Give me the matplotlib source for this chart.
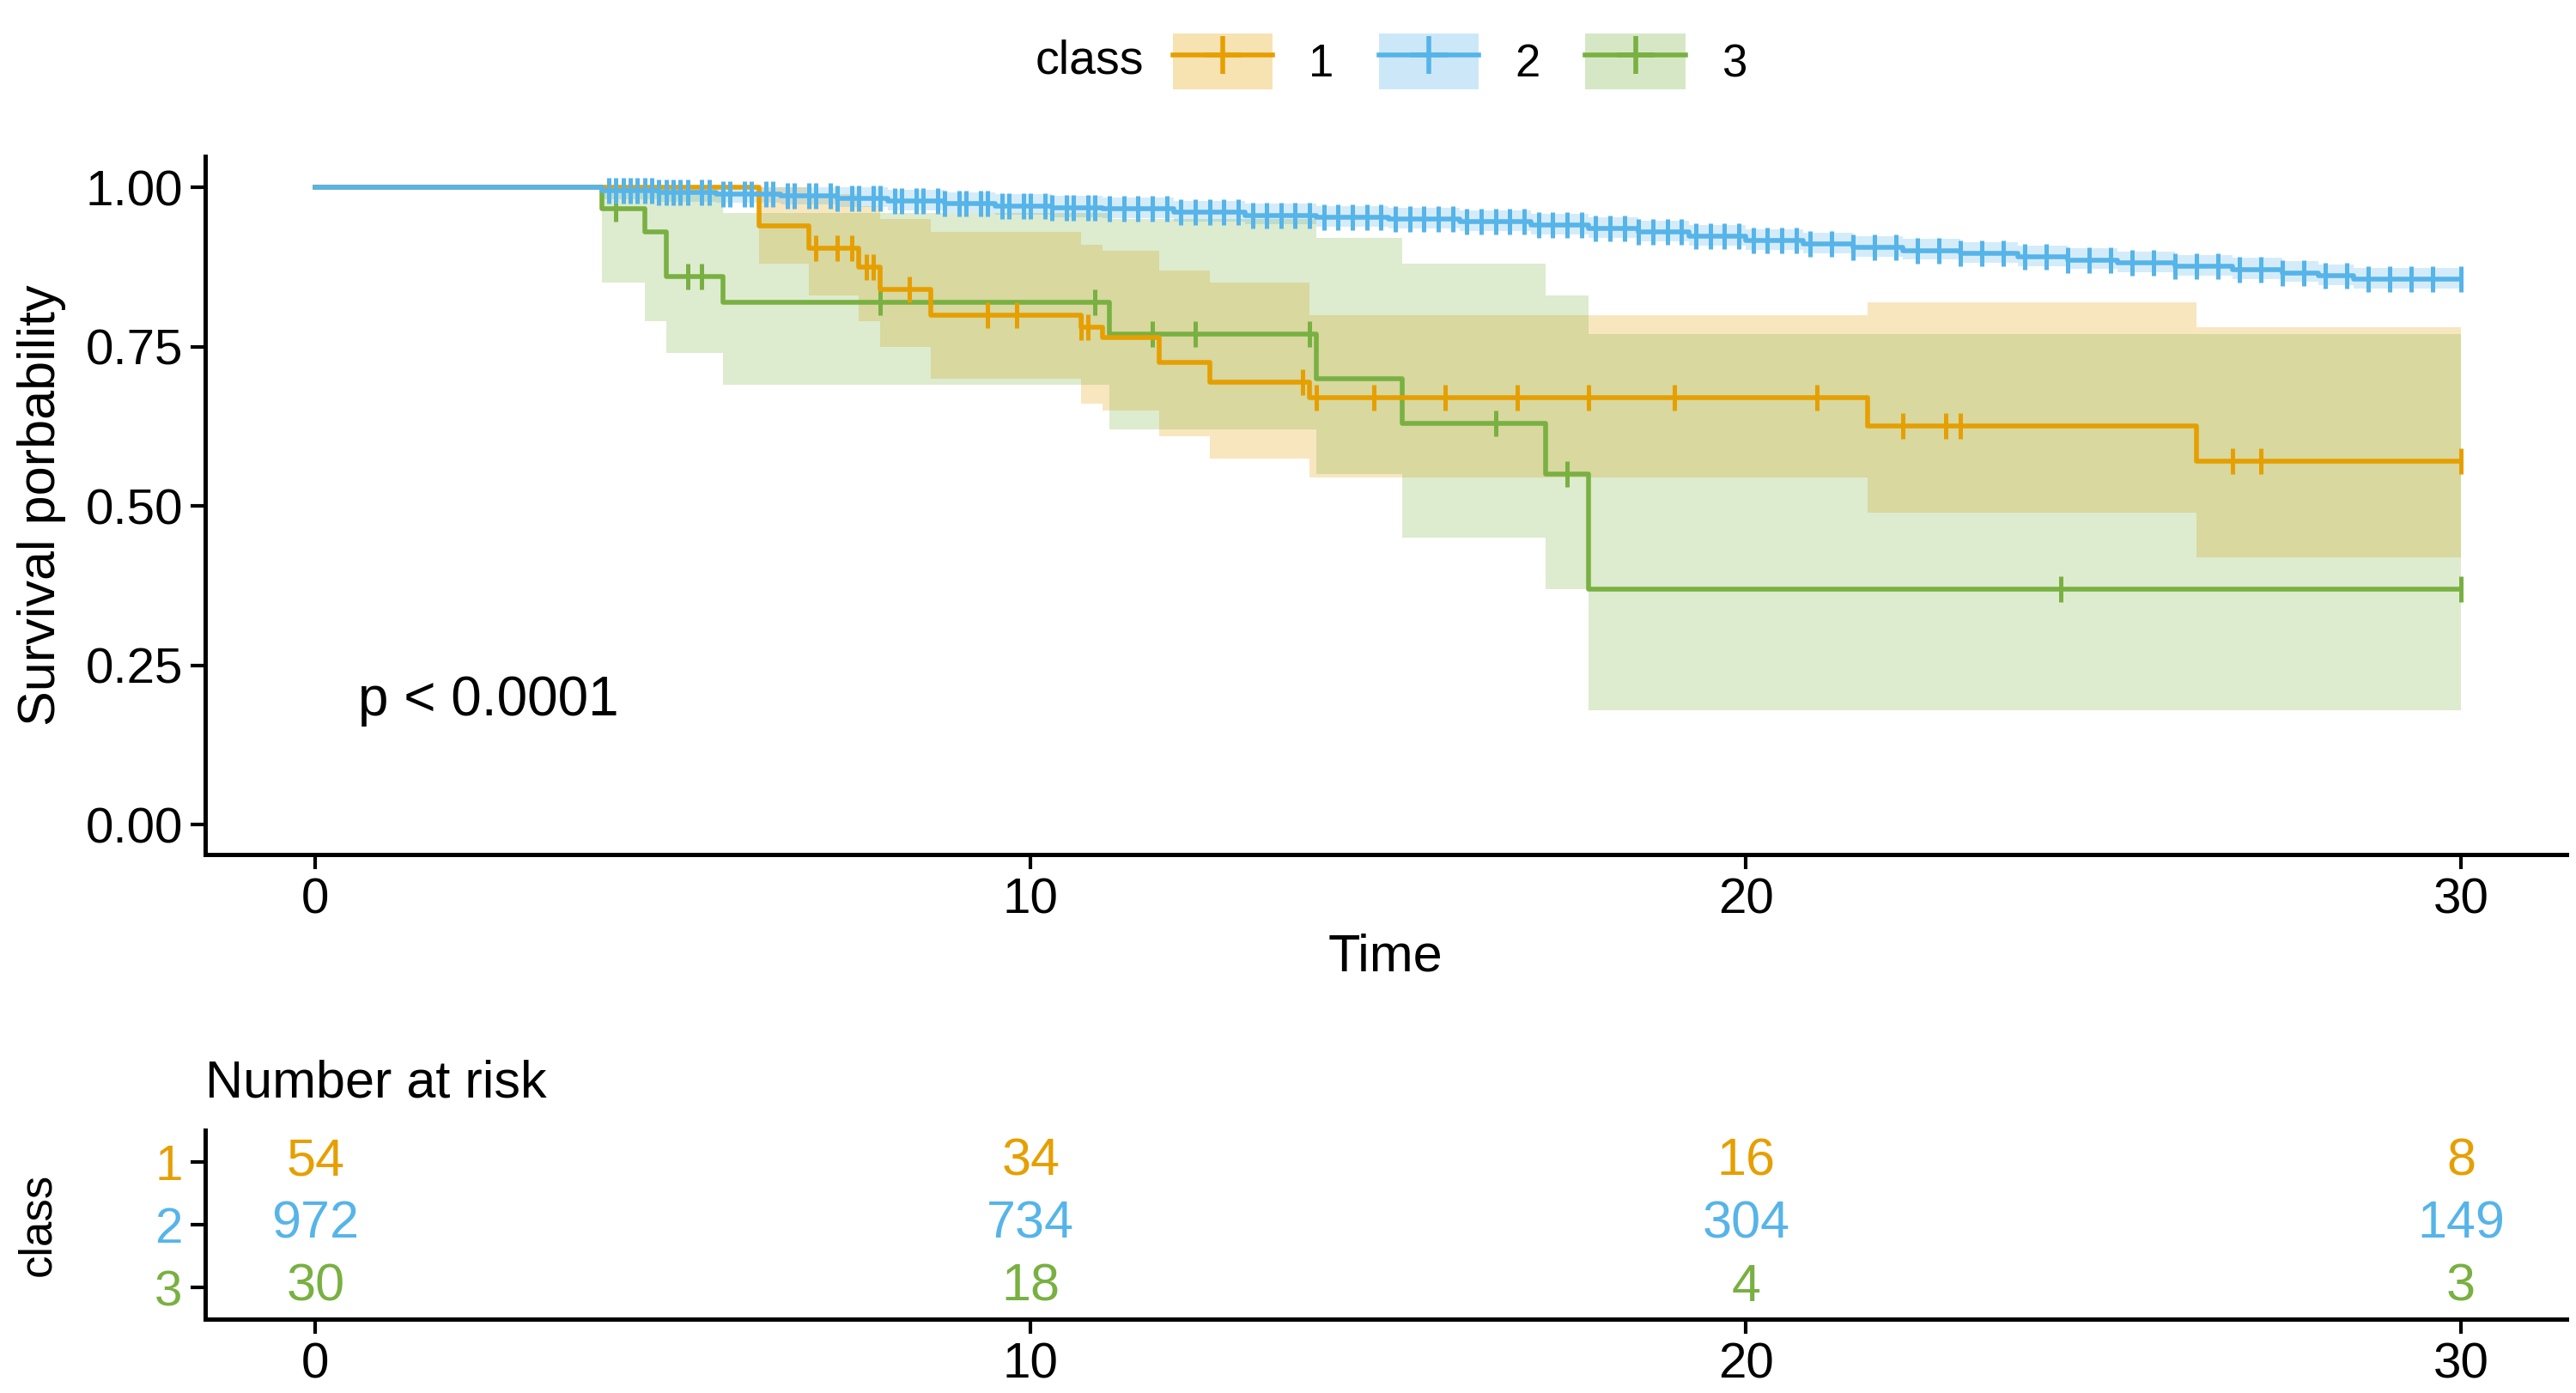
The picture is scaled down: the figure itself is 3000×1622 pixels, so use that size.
import matplotlib
matplotlib.use("Agg")
import matplotlib.pyplot as plt
from matplotlib.patches import Patch
from matplotlib.lines import Line2D
from matplotlib.offsetbox import HPacker

plt.rcParams['font.family'] = ['Liberation Sans', 'DejaVu Sans']

colors = {"1": "#E69F00", "2": "#56B4E9", "3": "#79B042"}

# class 1
t1 = [0, 6.2, 6.9, 7.6, 7.9, 8.6, 10.7, 11.0, 11.8, 12.5, 13.9, 21.7, 26.3, 30]
s1 = [1.0, 0.94, 0.905, 0.875, 0.84, 0.80, 0.78, 0.765, 0.725, 0.695, 0.67, 0.625, 0.57, 0.57]
u1 = [1.0, 1.0, 0.99, 0.97, 0.95, 0.93, 0.91, 0.90, 0.87, 0.85, 0.80, 0.82, 0.78, 0.78]
l1 = [1.0, 0.88, 0.83, 0.79, 0.75, 0.70, 0.66, 0.65, 0.61, 0.575, 0.545, 0.49, 0.42, 0.42]
c1 = [7.0, 7.3, 7.5, 7.7, 7.8, 8.3, 9.4, 9.8, 10.7, 10.8, 13.8, 14.0, 14.8, 15.8, 16.8, 17.8, 19.0, 21.0, 22.2, 22.8, 23.0, 26.8, 27.2, 30.0]

# class 3
t3 = [0, 4.0, 4.6, 4.9, 5.7, 11.1, 14.0, 15.2, 17.2, 17.8, 30]
s3 = [1.0, 0.967, 0.93, 0.86, 0.82, 0.77, 0.70, 0.63, 0.55, 0.37, 0.37]
u3 = [1.0, 1.0, 1.0, 0.99, 0.96, 0.95, 0.92, 0.88, 0.83, 0.77, 0.77]
l3 = [1.0, 0.85, 0.79, 0.74, 0.69, 0.62, 0.55, 0.45, 0.37, 0.18, 0.18]
c3 = [4.2, 5.2, 5.4, 7.9, 10.9, 11.7, 12.3, 13.9, 16.5, 17.5, 24.4, 30.0]

# class 2
t2 = [0, 4.0, 4.8, 5.6, 6.5, 7.3, 8.0, 8.8, 9.5, 10.3, 11.0, 12.0, 13.0, 14.0, 15.0, 16.0, 17.0, 17.8, 18.5,
      19.2, 20.0, 20.8, 21.5, 22.2, 23.0, 23.8, 24.5, 25.2, 26.0, 26.8, 27.5, 28.0, 28.5, 30]
s2 = [1.0, 0.995, 0.992, 0.99, 0.987, 0.983, 0.978, 0.974, 0.971, 0.968, 0.966, 0.961, 0.956, 0.953, 0.95,
      0.946, 0.941, 0.935, 0.93, 0.923, 0.916, 0.911, 0.906, 0.901, 0.896, 0.891, 0.886, 0.881, 0.876, 0.871,
      0.866, 0.861, 0.856, 0.856]
c2 = [4.1, 4.2, 4.3, 4.4, 4.5, 4.6, 4.7, 4.8, 4.9, 5.0, 5.1, 5.2, 5.4, 5.5, 5.7, 5.8, 6.0, 6.1, 6.3, 6.4,
      6.6, 6.7, 6.9, 7.0, 7.2, 7.3, 7.5, 7.6, 7.8, 7.9, 8.1, 8.2, 8.4, 8.5, 8.7, 8.8, 9.0, 9.1, 9.3, 9.4,
      9.6, 9.7, 9.9, 10.0, 10.2, 10.3, 10.5, 10.6, 10.8, 10.9, 11.1, 11.3, 11.5, 11.7, 11.9, 12.1, 12.3,
      12.5, 12.7, 12.9, 13.1, 13.3, 13.5, 13.7, 13.9, 14.1, 14.3, 14.5, 14.7, 14.9, 15.1, 15.3, 15.5,
      15.7, 15.9, 16.1, 16.3, 16.5, 16.7, 16.9, 17.1, 17.3, 17.5, 17.7, 17.9, 18.1, 18.3, 18.5, 18.7,
      18.9, 19.1, 19.3, 19.5, 19.7, 19.9, 20.1, 20.3, 20.5, 20.7, 20.9, 21.2, 21.5, 21.8, 22.1, 22.4,
      22.7, 23.0, 23.3, 23.6, 23.9, 24.2, 24.5, 24.8, 25.1, 25.4, 25.7, 26.0, 26.3, 26.6, 26.9, 27.2,
      27.5, 27.8, 28.1, 28.4, 28.7, 29.0, 29.3, 29.6, 30.0]
band2 = 0.018

risk_times = [0, 10, 20, 30]
risk = {"1": [54, 34, 16, 8], "2": [972, 734, 304, 149], "3": [30, 18, 4, 3]}

u2 = [min(1.0, v + band2 * (1 if i > 0 else 0)) for i, v in enumerate(s2)]
l2 = [v - band2 * (1 if i > 0 else 0) * 0.8 for i, v in enumerate(s2)]
data = {"1": (t1, s1, u1, l1, c1), "2": (t2, s2, u2, l2, c2), "3": (t3, s3, u3, l3, c3)}

def surv_at(t, s, x):
    v = s[0]
    for ti, si in zip(t, s):
        if ti <= x:
            v = si
    return v

fig = plt.figure(figsize=(15, 8.11), dpi=200)
ax = fig.add_axes([125/1568, 1-520/848, (1562-125)/1568, (520-95)/848])
for k in ["1", "2", "3"]:
    t, s, u, l, c = data[k]
    ax.fill_between(t, l, u, step='post', color=colors[k], alpha=0.25, linewidth=0)
for k in ["3", "1", "2"]:
    t, s, u, l, c = data[k]
    ax.step(t, s, where='post', color=colors[k], lw=2)
    ax.plot(c, [surv_at(t, s, x) for x in c], ls='none', marker='|', ms=11, mew=1.8, color=colors[k])

ax.set_xlim(-1.54, 31.47)
ax.set_ylim(-0.046, 1.049)
ax.set_xticks([0, 10, 20, 30])
ax.set_yticks([0, 0.25, 0.5, 0.75, 1.0])
ax.set_yticklabels(["0.00", "0.25", "0.50", "0.75", "1.00"])
for sp in ["top", "right"]:
    ax.spines[sp].set_visible(False)
for sp in ["left", "bottom"]:
    ax.spines[sp].set_linewidth(1.8)
ax.tick_params(labelsize=21, width=1.5, length=6)
ax.set_xlabel("Time", fontsize=22)
ax.set_ylabel("Survival porbability", fontsize=22, labelpad=8)
ax.text(0.6, 0.195, "p < 0.0001", fontsize=23, va='center')

handles = []
for k in ["1", "2", "3"]:
    handles.append((Patch(facecolor=colors[k], alpha=0.3, edgecolor='none'),
                    Line2D([], [], color=colors[k], lw=2, marker='+', ms=16, mew=2)))
leg = fig.legend(handles, ["1", "2", "3"], loc='upper center', bbox_to_anchor=(0.54, 1.005),
                 ncol=3, frameon=False, fontsize=19, title="class", title_fontsize=20,
                 handlelength=2.2, handleheight=1.5, columnspacing=1.0)
box = leg._legend_box
box._children = [HPacker(children=box._children, pad=0, sep=12, align='center')]

# risk table
ax2 = fig.add_axes([125/1568, 1-803/848, (1562-125)/1568, (803-688)/848])
ax2.set_xlim(-1.54, 31.47)
ax2.set_ylim(3.5, 0.5)
for i, k in enumerate(["1", "2", "3"]):
    for x, n in zip(risk_times, risk[k]):
        ax2.text(x, i + 1, str(n), color=colors[k], fontsize=22, ha='center', va='center')
ax2.set_yticks([1, 2, 3])
ax2.set_yticklabels(["1", "2", "3"])
for lab, k in zip(ax2.get_yticklabels(), ["1", "2", "3"]):
    lab.set_color(colors[k])
ax2.set_xticks([0, 10, 20, 30])
for sp in ["top", "right"]:
    ax2.spines[sp].set_visible(False)
for sp in ["left", "bottom"]:
    ax2.spines[sp].set_linewidth(1.8)
ax2.tick_params(labelsize=21, width=1.5, length=6)
ax2.set_ylabel("class", fontsize=19, labelpad=40)
ax2.set_title("Number at risk", fontsize=22, loc='left', pad=14)

fig.savefig("out.png", dpi=200)
